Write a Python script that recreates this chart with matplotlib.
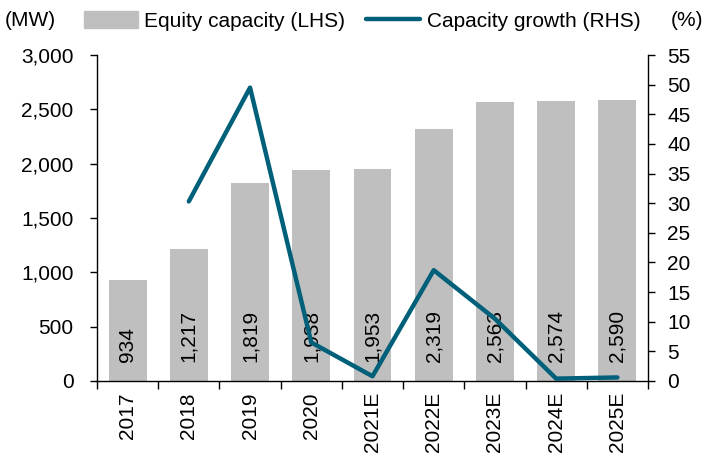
import matplotlib
matplotlib.use("Agg")
import matplotlib.pyplot as plt
from matplotlib.ticker import FuncFormatter, MultipleLocator, FixedLocator
from matplotlib.patches import Patch
from matplotlib.lines import Line2D

plt.rcParams['font.family'] = ['Liberation Sans', 'DejaVu Sans']

years = ["2017", "2018", "2019", "2020", "2021E", "2022E", "2023E", "2024E", "2025E"]
capacity = [934, 1217, 1819, 1938, 1953, 2319, 2563, 2574, 2590]
growth = [None, 30.3, 49.5, 6.5, 0.8, 18.7, 10.5, 0.4, 0.6]

bar_color = "#BFBFBF"
line_color = "#00607A"
fs = 15

fig = plt.figure(figsize=(7.08, 4.61), dpi=100)
ax = fig.add_axes([97/708, 1-381/461, (648-97)/708, (381-55)/461])
x = list(range(len(years)))
ax.bar(x, capacity, width=0.62, color=bar_color, zorder=1)
ax.set_xlim(-0.5, len(years)-0.5)
ax.set_ylim(0, 3000)
ax.yaxis.set_major_locator(MultipleLocator(500))
ax.yaxis.set_major_formatter(FuncFormatter(lambda v, p: f"{int(v):,}"))
ax.set_xticks(x)
ax.set_xticklabels(years, rotation=90, fontsize=fs)
ax.xaxis.set_minor_locator(FixedLocator([i + 0.5 for i in range(-1, len(years))]))
ax.tick_params(axis='x', which='major', length=0, pad=8)
ax.tick_params(axis='x', which='minor', length=6, direction='out', width=1)
ax.tick_params(axis='y', labelsize=fs, length=5, direction='out', width=1, pad=12)
for s in ['top', 'right']:
    ax.spines[s].set_visible(False)
for s in ['left', 'bottom']:
    ax.spines[s].set_linewidth(1)

for xi, v in zip(x, capacity):
    ax.annotate(f"{v:,}", xy=(xi, 0), xytext=(0, 13.5), textcoords='offset points',
                rotation=90, ha='center', va='bottom', fontsize=fs, zorder=2)

ax2 = ax.twinx()
gx = [xi for xi, g in zip(x, growth) if g is not None]
gy = [g for g in growth if g is not None]
ax2.plot(gx, gy, color=line_color, lw=3.2, solid_joinstyle='round', solid_capstyle='round', zorder=3)
ax2.set_ylim(0, 55)
ax2.yaxis.set_major_locator(MultipleLocator(5))
ax2.tick_params(axis='y', labelsize=fs, length=5, direction='out', width=1, pad=9)
for s in ['top', 'left', 'bottom']:
    ax2.spines[s].set_visible(False)
ax2.spines['right'].set_linewidth(1)

fig.text(5/708, 1-21/461, "(MW)", fontsize=fs, va='center', ha='left')
fig.text(703/708, 1-21/461, "(%)", fontsize=fs, va='center', ha='right')
handles = [Patch(color=bar_color), Line2D([0], [0], color=line_color, lw=3.2, solid_capstyle='round')]
fig.legend(handles, ["Equity capacity (LHS)", "Capacity growth (RHS)"], ncol=2,
           loc='center', bbox_to_anchor=(362/708, 1-21/461), frameon=False, fontsize=fs,
           handlelength=2.6, handletextpad=0.3, columnspacing=1.0, handleheight=0.9)

fig.savefig("out.png", dpi=100)
